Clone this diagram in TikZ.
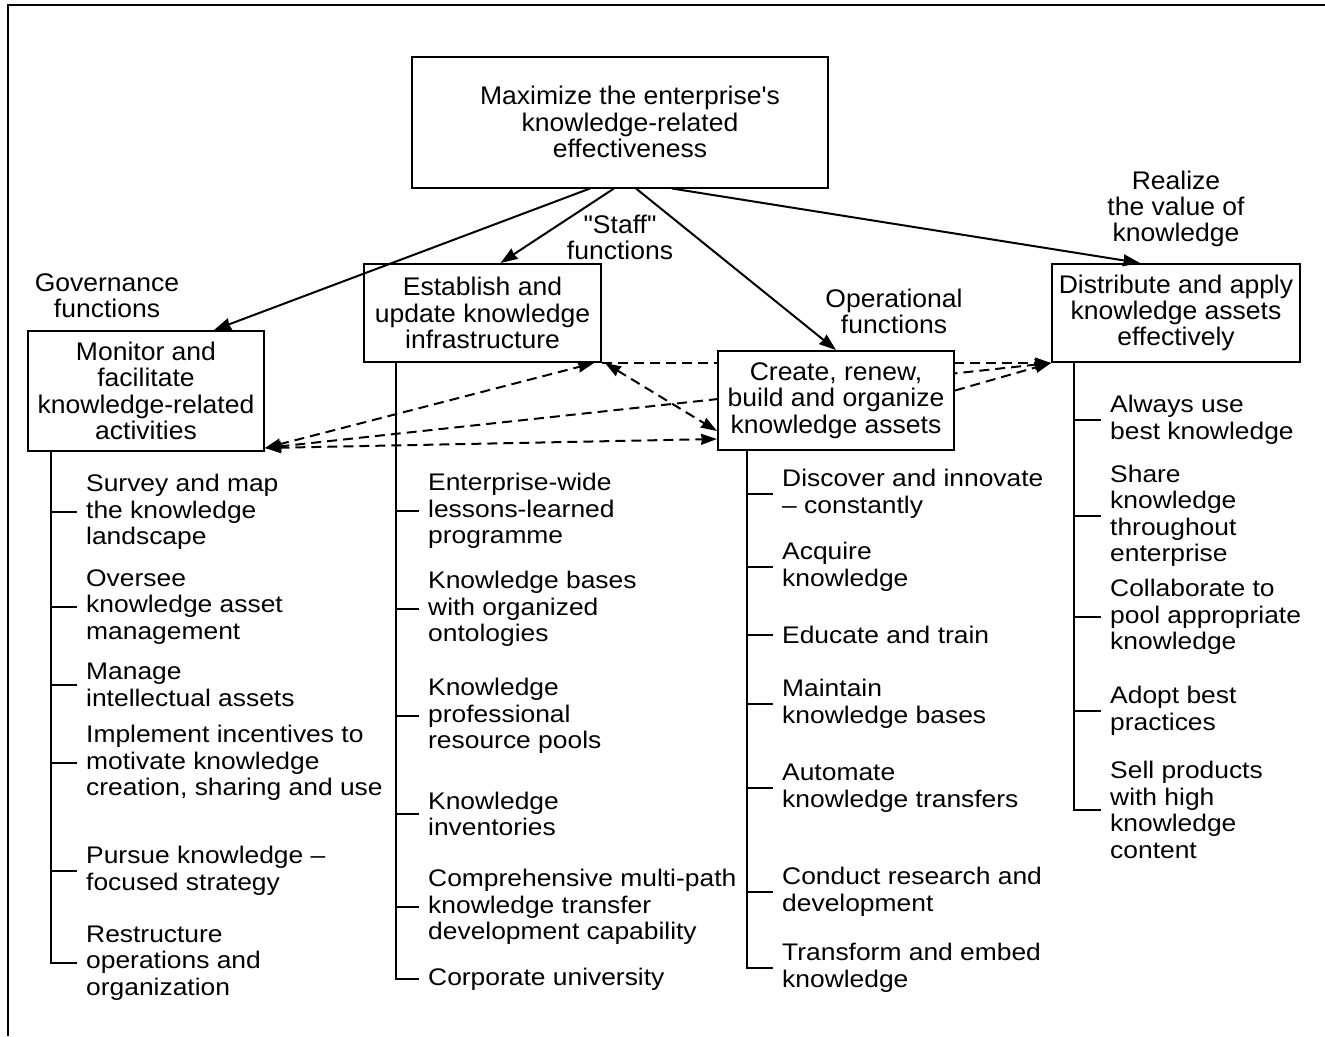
\documentclass[tikz,border=0pt]{standalone}
\usepackage{fontspec}
\setmainfont[Ligatures=TeXOff, FakeStretch=1.04]{Liberation Sans}
\newfontfamily\listfont[Ligatures=TeXOff, FakeStretch=1.10]{Liberation Sans}
\usepackage{tikz}
\usetikzlibrary{arrows.meta, positioning}

\begin{document}
\begin{tikzpicture}[x=1pt, y=-1pt,
        kmbox/.style={rectangle, draw=black, fill=white, line width=2pt, align=center, inner sep=0pt, font=\fontsize{25.5}{26.3}\selectfont},
        kmitem/.style={anchor=west, align=left, inner xsep=9pt, inner ysep=0pt, font=\listfont\fontsize{24}{26.5}\selectfont},
        kmlabel/.style={align=center, inner sep=0pt, font=\fontsize{25.5}{26.2}\selectfont},
        arrow/.style={-{Stealth[inset=1pt, length=17pt, width=12pt]}, line width=2pt},
        dasharrow/.style={-{Stealth[inset=1pt, length=16pt, width=11pt]}, line width=2pt, dash pattern=on 10pt off 6pt},
        dashboth/.style={dasharrow, {Stealth[inset=1pt, length=16pt, width=11pt]}-{Stealth[inset=1pt, length=16pt, width=11pt]}},
        spine/.style={line width=2pt}
    ]
        \useasboundingbox (0,0) rectangle (1325,1036);
        \draw[line width=2pt] (8,1036) -- (8,5) -- (1325,5);

        % main boxes
        \node[kmbox, minimum width=416pt, minimum height=131pt] (goal) at (620,122) {\hspace*{20pt}Maximize the enterprise's\\\hspace*{20pt}knowledge-related\\\hspace*{20pt}effectiveness};
        \node[kmbox, minimum width=237pt, minimum height=98pt] (infra) at (482.5,313) {Establish and\\update knowledge\\infrastructure};
        \node[kmbox, minimum width=236pt, minimum height=120pt] (mon) at (146,391) {Monitor and\\facilitate\\knowledge-related\\activities};
        \node[kmbox, minimum width=248pt, minimum height=98pt] (dist) at (1176,313) {Distribute and apply\\knowledge assets\\effectively};

        % lines that run behind the create box
        \draw[dasharrow] (infra.south east) -- (dist.south west);
        \draw[dashboth] ([yshift=4pt]mon.south east) -- (dist.south west);

        \node[kmbox, minimum width=236pt, minimum height=99pt] (create) at (836,400.5) {Create, renew,\\build and organize\\knowledge assets};

        % labels
        \node[kmlabel] (gov) at (107,296) {Governance\\functions};
        \node[kmlabel] (staff) at (620,237) {"Staff"\\functions};
        \node[kmlabel] (oper) at (894,311) {Operational\\functions};
        \node[kmlabel, above=16pt of dist] (real) {Realize\\the value of\\knowledge};

        % solid arrows
        \draw[arrow] ([xshift=-30pt]goal.south) -- ([xshift=68pt]mon.north);
        \draw[arrow] ([xshift=-6pt]goal.south) -- ([xshift=18pt]infra.north);
        \draw[arrow] ([xshift=16pt]goal.south) -- (create.north);
        \draw[arrow] ([xshift=52pt]goal.south) -- ([xshift=-36pt]dist.north);

        % dashed links
        \draw[dashboth] ([yshift=4pt]mon.south east) -- ([xshift=-8pt]infra.south east);
        \draw[dashboth] ([yshift=4pt]mon.south east) -- ([yshift=12pt]create.south west);
        \draw[dashboth] ([xshift=3pt]infra.south east) -- ([yshift=20pt]create.south west);
        \draw[dasharrow] ([yshift=10pt]create.east) -- (dist.south west);

        % monitor list
        \node[kmitem] (m1) at (77,512) {Survey and map\\the knowledge\\landscape};
        \node[kmitem] (m2) at (77,607) {Oversee\\knowledge asset\\management};
        \node[kmitem] (m3) at (77,685) {Manage\\intellectual assets};
        \node[kmitem] (m4) at (77,763) {Implement incentives to\\motivate knowledge\\creation, sharing and use};
        \node[kmitem] (m5) at (77,871) {Pursue knowledge –\\focused strategy};
        \node[kmitem] (m6) at (77,963) {Restructure\\operations and\\organization};
        \coordinate (monspine) at ([xshift=24pt]mon.south west);
        \draw[spine] (monspine) |- (m6.west);
        \foreach \i in {1,...,5}
            \draw[spine] (monspine |- m\i.west) -- (m\i.west);

        % infrastructure list
        \node[kmitem] (i1) at (419,511) {Enterprise-wide\\lessons-learned\\programme};
        \node[kmitem] (i2) at (419,609) {Knowledge bases\\with organized\\ontologies};
        \node[kmitem] (i3) at (419,716) {Knowledge\\professional\\resource pools};
        \node[kmitem] (i4) at (419,814) {Knowledge\\inventories};
        \node[kmitem] (i5) at (419,907) {Comprehensive multi-path\\knowledge transfer\\development capability};
        \node[kmitem] (i6) at (419,979) {Corporate university};
        \coordinate (infspine) at ([xshift=33pt]infra.south west);
        \draw[spine] (infspine) |- (i6.west);
        \foreach \i in {1,...,5}
            \draw[spine] (infspine |- i\i.west) -- (i\i.west);

        % create list
        \node[kmitem] (c1) at (773,494) {Discover and innovate\\– constantly};
        \node[kmitem] (c2) at (773,567) {Acquire\\knowledge};
        \node[kmitem] (c3) at (773,635) {Educate and train};
        \node[kmitem] (c4) at (773,704) {Maintain\\knowledge bases};
        \node[kmitem] (c5) at (773,788) {Automate\\knowledge transfers};
        \node[kmitem] (c6) at (773,892) {Conduct research and\\development};
        \node[kmitem] (c7) at (773,968) {Transform and embed\\knowledge};
        \coordinate (crespine) at ([xshift=30pt]create.south west);
        \draw[spine] (crespine) |- (c7.west);
        \foreach \i in {1,...,6}
            \draw[spine] (crespine |- c\i.west) -- (c\i.west);

        % distribute list
        \node[kmitem] (d1) at (1101,420) {Always use\\best knowledge};
        \node[kmitem] (d2) at (1101,516) {Share\\knowledge\\throughout\\enterprise};
        \node[kmitem] (d3) at (1101,617) {Collaborate to\\pool appropriate\\knowledge};
        \node[kmitem] (d4) at (1101,711) {Adopt best\\practices};
        \node[kmitem] (d5) at (1101,810) {Sell products\\with high\\knowledge\\content};
        \coordinate (disspine) at ([xshift=23pt]dist.south west);
        \draw[spine] (disspine) |- (d5.west);
        \foreach \i in {1,...,4}
            \draw[spine] (disspine |- d\i.west) -- (d\i.west);
    \end{tikzpicture}
\end{document}
